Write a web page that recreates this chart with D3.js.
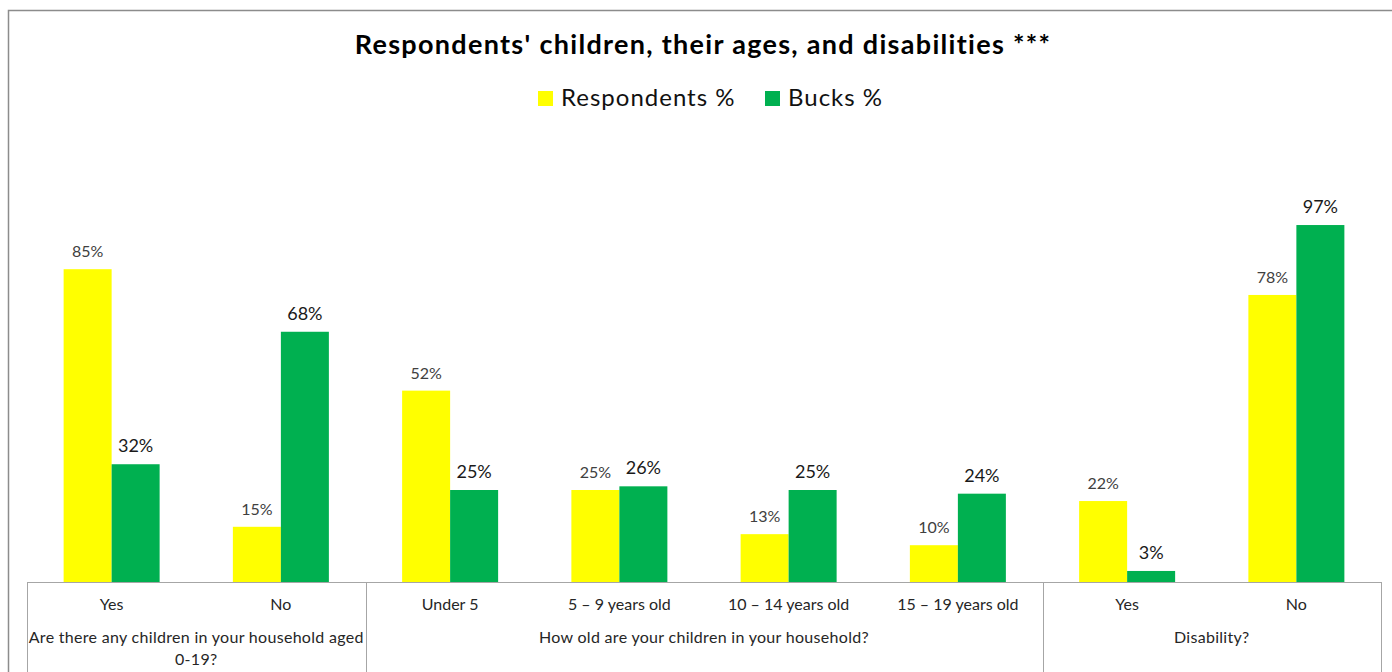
<!DOCTYPE html>
<html>
<head>
<meta charset="utf-8">
<script src="https://cdn.jsdelivr.net/npm/d3@7"></script>
<style>
  body { margin: 0; background: #fff; }
  text { font-family: Lato, "Open Sans", sans-serif; }
</style>
</head>
<body>
<div class="chart"></div>
<script>
const w = 1392;
const h = 672;

// data
const categories = ["Yes", "No", "Under 5", "5 \u2013 9 years old", "10 \u2013 14 years old", "15 \u2013 19 years old", "Yes", "No"];
const respondents = [85, 15, 52, 25, 13, 10, 22, 78];
const bucks = [32, 68, 25, 26, 25, 24, 3, 97];
const groups = [
  { label: ["Are there any children in your household aged", "0-19?"], from: 0, to: 2 },
  { label: ["How old are your children in your household?"], from: 2, to: 6 },
  { label: ["Disability?"], from: 6, to: 8 }
];
const seriesNames = ["Respondents %", "Bucks %"];
const colors = ["#FFFF00", "#00B050"];

const svg = d3.select(".chart")
  .append("svg")
  .attr("width", w)
  .attr("height", h)

// outer chart border
svg.append("rect")
  .attr("x", 8.5)
  .attr("y", 10.5)
  .attr("width", 1400)
  .attr("height", 700)
  .attr("fill", "none")
  .attr("stroke", "#8c8c8c")
  .attr("stroke-width", 1.5)

svg.append("text")
  .attr("x", 703)
  .attr("y", 54)
  .attr("text-anchor", "middle")
  .style("font-size", "27px")
  .style("font-weight", "bold")
  .style("letter-spacing", "1.3px")
  .attr("fill", "#000")
  .text("Respondents' children, their ages, and disabilities ***")

// legend
const legendX = [538, 765];
const legend = svg.append("g")
  .selectAll("g")
  .data(seriesNames)
  .enter()
  .append("g")
  .attr("transform", (d, i) => `translate(${legendX[i]}, 91)`)

legend.append("rect")
  .attr("width", 15)
  .attr("height", 15)
  .attr("fill", (d, i) => colors[i])

legend.append("text")
  .attr("x", 23)
  .attr("y", 15)
  .style("font-size", "24px")
  .style("letter-spacing", "1px")
  .attr("fill", "#111")
  .text(d => d)

// scales
const x = d3.scaleBand()
  .domain(d3.range(categories.length))
  .range([27, 1381]);

const inner = d3.scaleBand()
  .domain([0, 1])
  .range([0, x.bandwidth()])
  .paddingOuter(0.763)
  .paddingInner(0);

const y = d3.scaleLinear()
  .domain([0, 100])
  .range([582, 214]);

const rows = categories.map((c, i) => ({ i, values: [respondents[i], bucks[i]] }));

const cat = svg.append("g")
  .selectAll("g")
  .data(rows)
  .enter()
  .append("g")
  .attr("transform", d => `translate(${x(d.i)},0)`)

cat.selectAll("rect")
  .data(d => d.values.map((v, s) => ({ v, s })))
  .enter()
  .append("rect")
  .attr("x", d => inner(d.s))
  .attr("width", inner.bandwidth())
  .attr("y", d => y(d.v))
  .attr("height", d => y(0) - y(d.v))
  .attr("fill", d => colors[d.s])

cat.selectAll("text.val")
  .data(d => d.values.map((v, s) => ({ v, s })))
  .enter()
  .append("text")
  .attr("class", "val")
  .attr("x", d => inner(d.s) + inner.bandwidth() / 2)
  .attr("y", d => y(d.v) - 12)
  .attr("text-anchor", "middle")
  .style("font-size", d => d.s === 0 ? "16px" : "18px")
  .attr("fill", d => d.s === 0 ? "#404040" : "#1a1a1a")
  .text(d => d.v + "%")

// axis table
const axis = svg.append("g")
  .attr("stroke", "#a6a6a6")
  .attr("stroke-width", 1)

axis.append("line")
  .attr("x1", x.range()[0])
  .attr("x2", x.range()[1])
  .attr("y1", y(0) + 0.5)
  .attr("y2", y(0) + 0.5)

const dividers = [0].concat(groups.map(g => g.to));
axis.selectAll("line.div")
  .data(dividers)
  .enter()
  .append("line")
  .attr("class", "div")
  .attr("x1", d => Math.round(x.range()[0] + d * x.step()) + 0.5)
  .attr("x2", d => Math.round(x.range()[0] + d * x.step()) + 0.5)
  .attr("y1", y(0))
  .attr("y2", h)

svg.append("g")
  .selectAll("text")
  .data(categories)
  .enter()
  .append("text")
  .attr("x", (d, i) => x(i) + x.bandwidth() / 2)
  .attr("y", 610)
  .attr("text-anchor", "middle")
  .style("font-size", "16px")
  .attr("fill", "#262626")
  .text(d => d)

const grp = svg.append("g")
  .selectAll("text")
  .data(groups)
  .enter()
  .append("text")
  .attr("x", d => x.range()[0] + (d.from + d.to) / 2 * x.step())
  .attr("y", 643)
  .attr("text-anchor", "middle")
  .style("font-size", "16px")
  .style("letter-spacing", "0.3px")
  .attr("fill", "#262626")

grp.selectAll("tspan")
  .data(d => d.label)
  .enter()
  .append("tspan")
  .attr("x", function () { return d3.select(this.parentNode).attr("x"); })
  .attr("dy", (d, i) => i === 0 ? 0 : 22)
  .text(d => d)
</script>
</body>
</html>
